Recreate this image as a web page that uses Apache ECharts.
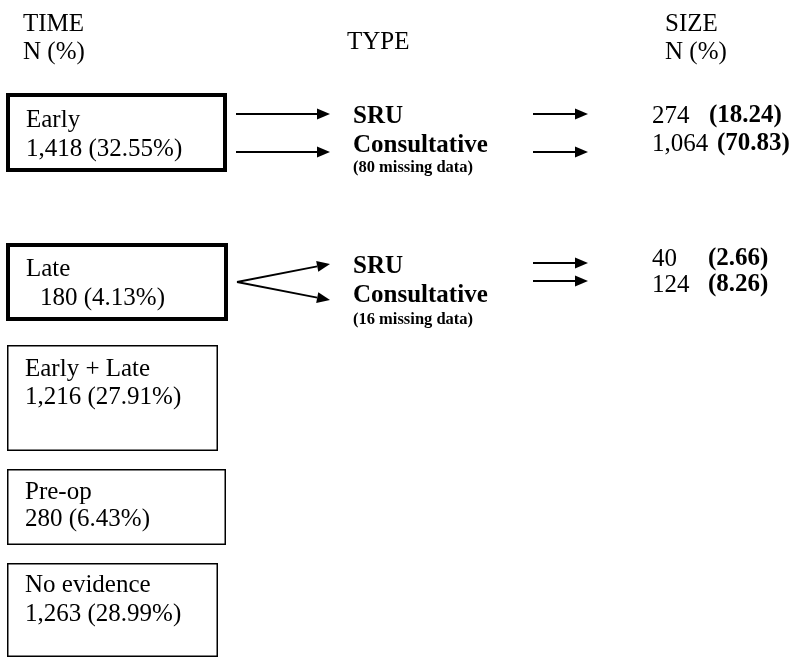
<!DOCTYPE html>
<html>
<head>
<meta charset="utf-8">
<script src="https://cdn.jsdelivr.net/npm/echarts@6/dist/echarts.min.js"></script>
<style>
  html, body { margin: 0; background: #fff; }
  #main { width: 792px; height: 664px; }
</style>
</head>
<body>
<div id="main"></div>
<script>
// ---- data ----
const headers = ['TIME', 'TYPE', 'SIZE'];
const timeNames = ['Early', 'Late', 'Early + Late', 'Pre-op', 'No evidence'];
const timeCounts = ['1,418', '180', '1,216', '280', '1,263'];
const timePcts = ['32.55%', '4.13%', '27.91%', '6.43%', '28.99%'];
const typeNames = ['SRU', 'Consultative'];
const typeMissing = [80, 16];               // Early row, Late row
const sizeCounts = [['274', '1,064'], ['40', '124']];
const sizePcts = [['18.24', '70.83'], ['2.66', '8.26']];

// ---- layout (pixels) ----
const FONT = '"Liberation Serif", "Times New Roman", serif';
const FS = 25;
const boxes = [
  { x: 6, y: 93, w: 221, h: 79, thick: true, tx: 26, indent: 0, l1: 128, l2: 157 },
  { x: 6, y: 243, w: 222, h: 78, thick: true, tx: 26, indent: 14, l1: 277, l2: 306 },
  { x: 7, y: 345, w: 211, h: 106, thick: false, tx: 25, indent: 0, l1: 377, l2: 405 },
  { x: 7, y: 469, w: 219, h: 76, thick: false, tx: 25, indent: 0, l1: 500, l2: 527 },
  { x: 7, y: 563, w: 211, h: 94, thick: false, tx: 25, indent: 0, l1: 593, l2: 622 }
];
const flowRows = [
  {
    left: [[236, 114, 330, 114], [236, 152, 330, 152]],
    type: [125, 154], missing: 173,
    right: [[533, 114, 588, 114], [533, 152, 588, 152]],
    size: [124, 152], pctX: [709, 717]
  },
  {
    left: [[237, 282, 330, 264], [237, 282, 330, 300]],
    type: [275, 304], missing: 325,
    right: [[533, 263, 588, 263], [533, 281, 588, 281]],
    size: [267, 293], pctX: [708, 708]
  }
];

// text placed by its baseline
function txt(x, base, s, size, bold) {
  return {
    type: 'text',
    x: x,
    y: base - size * 0.32,
    style: {
      text: s,
      fill: '#000',
      font: (bold ? 'bold ' : '') + size + 'px ' + FONT,
      verticalAlign: 'middle',
      align: 'left'
    }
  };
}

function arrow(x1, y1, x2, y2) {
  const ang = Math.atan2(y2 - y1, x2 - x1);
  const len = 13, half = 5.5;
  const bx = x2 - len * Math.cos(ang), by = y2 - len * Math.sin(ang);
  const px = -Math.sin(ang) * half, py = Math.cos(ang) * half;
  return [
    {
      type: 'line',
      shape: { x1: x1, y1: y1, x2: bx, y2: by },
      style: { stroke: '#000', lineWidth: 1.8 }
    },
    {
      type: 'polygon',
      shape: { points: [[x2, y2], [bx + px, by + py], [bx - px, by - py]] },
      style: { fill: '#000' }
    }
  ];
}

let elements = [];

// column headers
elements.push(txt(23, 32, headers[0], FS));
elements.push(txt(23, 60, 'N (%)', FS));
elements.push(txt(347, 50, headers[1], FS));
elements.push(txt(665, 32, headers[2], FS));
elements.push(txt(665, 60, 'N (%)', FS));

// time boxes
boxes.forEach((b, i) => {
  const lw = b.thick ? 4 : 1.5;
  elements.push({
    type: 'rect',
    shape: { x: b.x + lw / 2, y: b.y + lw / 2, width: b.w - lw, height: b.h - lw },
    style: { fill: 'none', stroke: '#000', lineWidth: lw }
  });
  elements.push(txt(b.tx, b.l1, timeNames[i], FS));
  elements.push(txt(b.tx + b.indent, b.l2, timeCounts[i] + ' (' + timePcts[i] + ')', FS));
});

// flows: time -> type -> size
flowRows.forEach((r, i) => {
  r.left.forEach(a => { elements = elements.concat(arrow(a[0], a[1], a[2], a[3])); });
  r.right.forEach(a => { elements = elements.concat(arrow(a[0], a[1], a[2], a[3])); });
  typeNames.forEach((t, j) => elements.push(txt(353, r.type[j], t, FS, true)));
  elements.push(txt(353, r.missing, '(' + typeMissing[i] + ' missing data)', 16.5, true));
  sizeCounts[i].forEach((c, j) => {
    elements.push(txt(652, r.size[j], c, FS));
    elements.push(txt(r.pctX[j], r.size[j], '(' + sizePcts[i][j] + ')', FS, true));
  });
});

let myChart = echarts.init(document.getElementById('main'));
let option = {
  backgroundColor: '#fff',
  animation: false,
  graphic: { elements: elements }
};
myChart.setOption(option);
</script>
</body>
</html>
